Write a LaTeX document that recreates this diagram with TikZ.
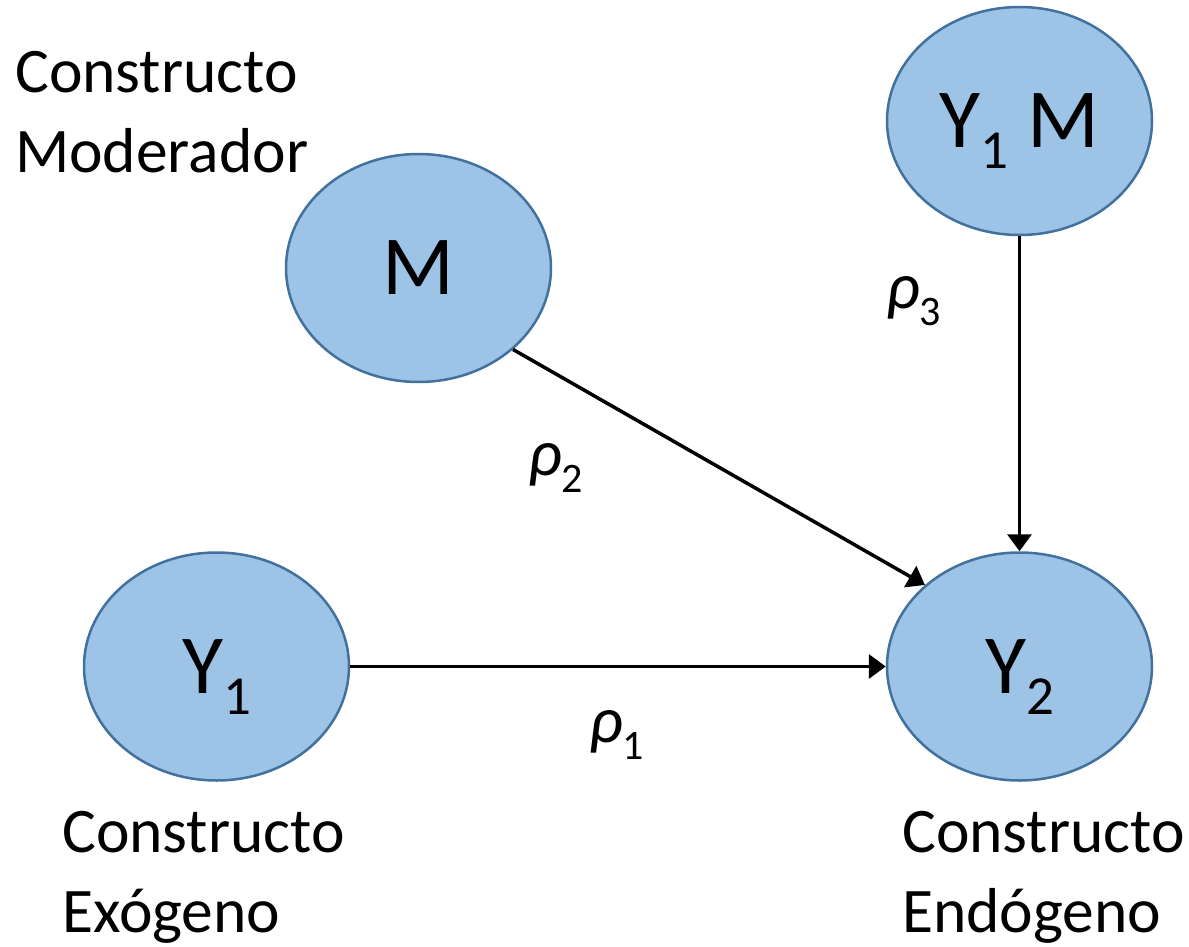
\documentclass[tikz,border=0pt]{standalone}
\usepackage{fontspec}
\setmainfont{Carlito}
\usetikzlibrary{arrows.meta,shapes.geometric}
\definecolor{fillblue}{HTML}{9DC3E6}
\definecolor{edgeblue}{HTML}{41719C}
\newcommand\mysubsc[1]{\raisebox{-21pt}{\fontsize{55}{60}\selectfont #1}}
\newcommand\coefrho[1]{\fontsize{66}{72}\selectfont{\itshape ρ}\raisebox{-17pt}{\fontsize{42}{48}\selectfont #1}}
\begin{document}
\begin{tikzpicture}[x=1pt,y=-1pt,
  construct/.style={ellipse,draw=edgeblue,fill=fillblue,line width=2.5pt,
    minimum width=265pt,minimum height=228pt,inner sep=0pt,text depth=0pt,
    font=\fontsize{84}{100}\selectfont},
  conn/.style={line width=3.5pt,-{Triangle[length=17pt,width=24pt]}},
  lbl/.style={font=\fontsize{63.5}{80}\selectfont,align=left,inner sep=0pt,anchor=base west},
  coef/.style={inner sep=0pt,anchor=base west}]
\useasboundingbox (0,0) rectangle (1189,947);
\node[construct] (m) at (418.5,268) {M};
\node[construct] (y1m) at (1019.5,121) {Y\mysubsc{1} M};
\node[construct] (y1) at (216.5,666.5) {Y\mysubsc{1}};
\node[construct] (y2) at (1019.5,666.5) {Y\mysubsc{2}};
\draw[conn] (y1) -- (y2);
\draw[conn] (m.south east) -- (y2.north west);
\draw[conn] (y1m) -- (y2);
\node[coef] (r2) at (528,475) {\coefrho{2}};
\node[coef] (r3) at (886,308) {\coefrho{3}};
\node[coef] (r1) at (589,742) {\coefrho{1}};
\node[lbl] (lmod) at (15,172) {Constructo\\Moderador};
\node[lbl] (lexo) at (62,932) {Constructo\\Exógeno};
\node[lbl] (lendo) at (902,932) {Constructo\\Endógeno};
\end{tikzpicture}
\end{document}
